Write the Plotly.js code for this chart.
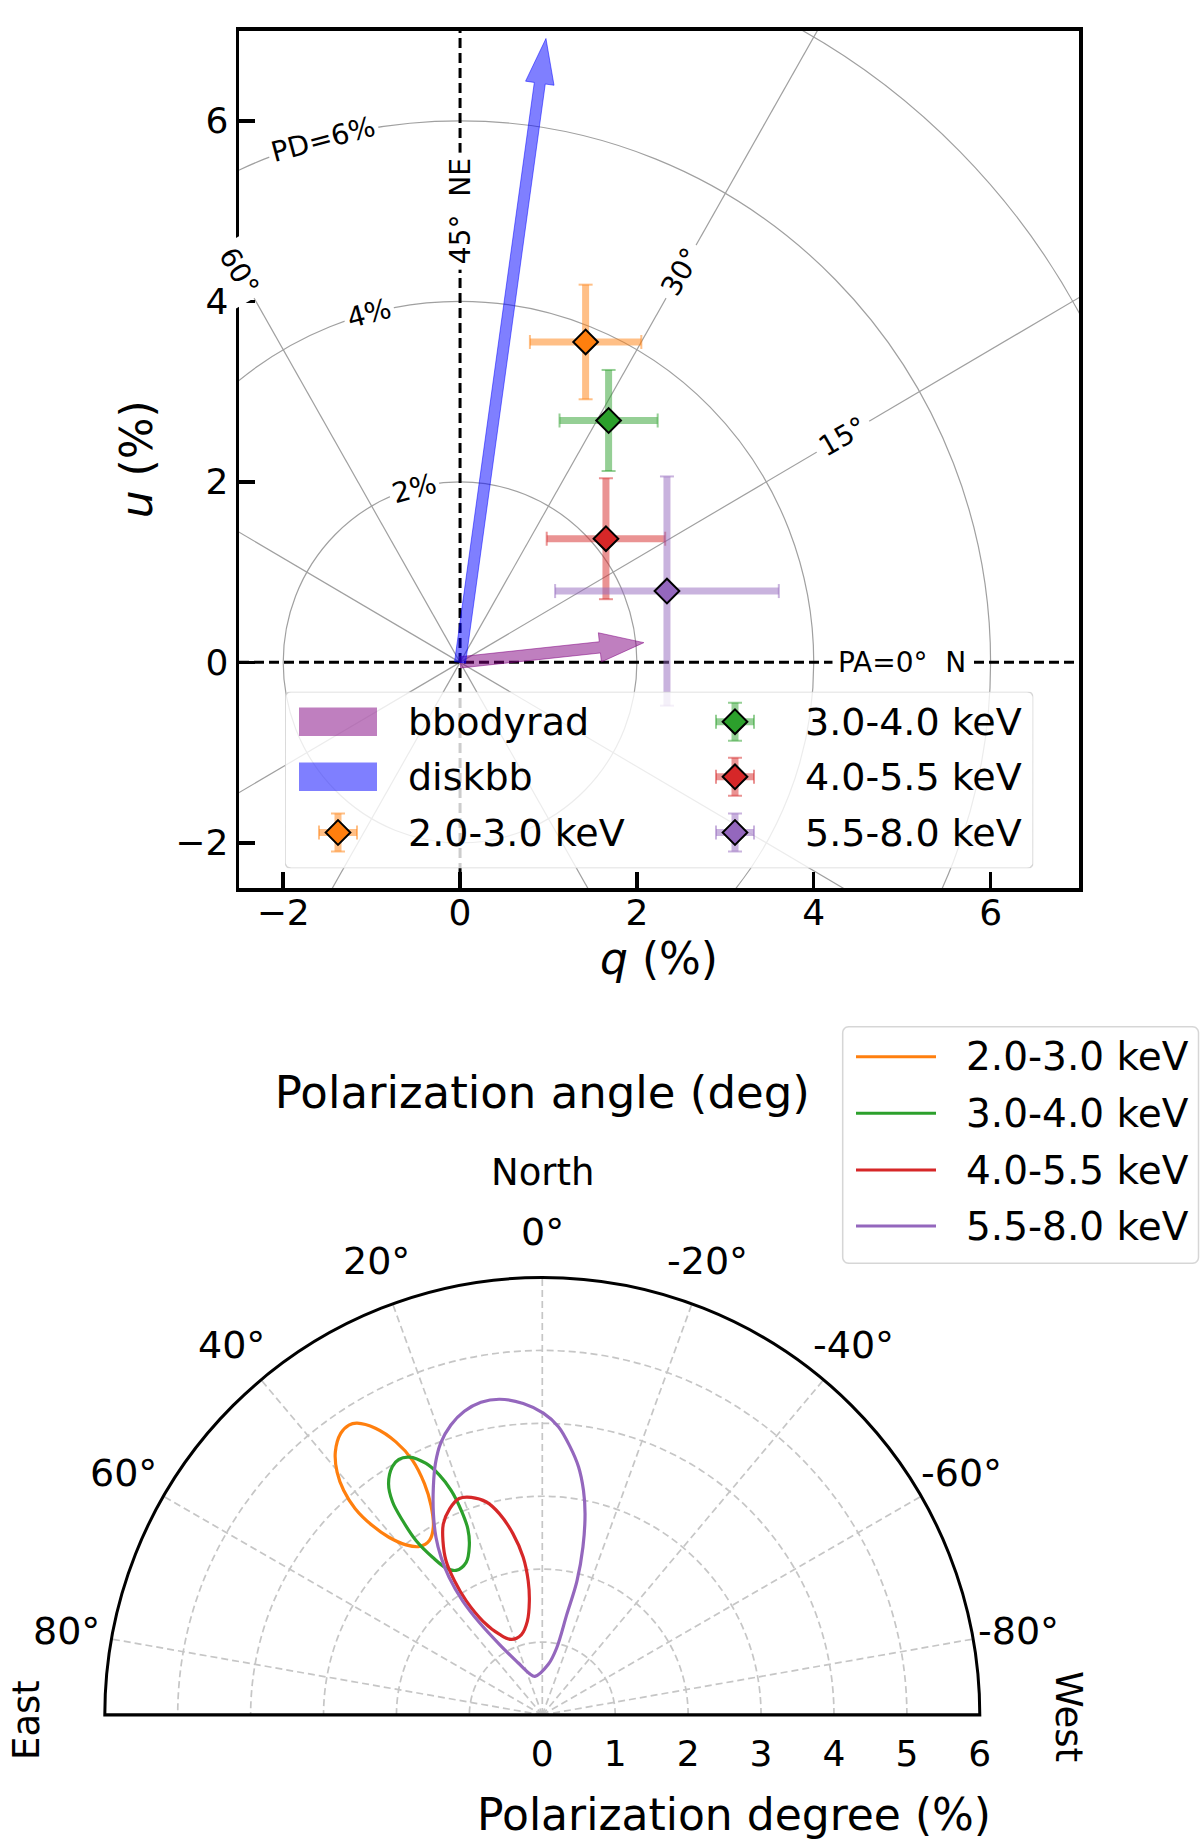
<!DOCTYPE html>
<html><head><meta charset="utf-8">
<script src="https://cdn.plot.ly/plotly-3.0.1.min.js"></script>
<style>html,body{margin:0;padding:0;background:#fff}</style>
</head><body><div id="chart" style="width:1200px;height:1842px"></div>
<script>
// ================= DATA =================
// Energy bands
const bands = ['2.0-3.0 keV', '3.0-4.0 keV', '4.0-5.5 keV', '5.5-8.0 keV'];
const bandColors = ['#ff7f0e', '#2ca02c', '#d62728', '#9467bd'];
const bandErrColors = ['rgba(255,127,14,0.5)', 'rgba(44,160,44,0.5)', 'rgba(214,39,40,0.5)', 'rgba(148,103,189,0.5)'];
// Normalised Stokes parameters (%)
const qVals = [1.42, 1.68, 1.65, 2.34];
const uVals = [3.55, 2.68, 1.37, 0.79];
const qErr  = [0.63, 0.555, 0.67, 1.265];
const uErr  = [0.635, 0.56, 0.67, 1.27];

// Model components (arrows): polarization degree (%) and angle (deg)
const components = ['bbodyrad', 'diskbb'];
const componentPD = [2.09, 6.98];
const componentPA = [3.0, 41.0];
const componentColors = ['rgba(128,0,128,0.5)', 'rgba(0,0,255,0.5)'];

// Confidence contours in the polar plot: PA (deg) and PD (%)
const contourPA_2_3 = [32.4,30.2,28.2,27.0,27.0,28.0,30.1,32.9,36.1,38.7,40.8,41.9,42.2,41.5,40.2,38.2,35.6,33.7,32.4];
const contourPD_2_3 = [4.74,4.55,4.25,3.92,3.56,3.25,2.98,2.85,2.86,2.99,3.22,3.49,3.82,4.11,4.36,4.59,4.75,4.78,4.74];
const contourPA_3_4 = [27.3,24.8,23.2,22.1,21.6,21.8,23.3,26.5,30.8,33.2,34.8,35.9,35.7,35.1,33.6,31.1,29.3,27.3];
const contourPD_3_4 = [3.98,3.80,3.58,3.33,3.02,2.75,2.53,2.34,2.31,2.41,2.63,2.95,3.28,3.57,3.81,3.98,4.02,3.98];
const contourPA_4_55 = [18.1,14.7,12.0,9.2,6.9,6.0,6.5,9.1,14.5,22.3,27.9,32.3,33.7,33.2,32.0,29.7,27.4,24.2,21.0,18.1];
const contourPD_4_55 = [3.14,3.02,2.82,2.52,2.18,1.85,1.57,1.30,1.14,1.12,1.25,1.52,1.88,2.20,2.49,2.75,2.95,3.10,3.18,3.14];
const contourPA_55_8 = [10.8,-6.8,-12.1,-13.7,-14.5,-13.6,-12.0,-10.4,-8.3,-5.9,-3.2,-0.2,3.5,7.7,11.1,14.4,17.5,20.5,23.0,25.5,28.4,30.9,32.7,34.1,34.9,34.2,31.2,24.9,16.9,10.8];
const contourPD_55_8 = [0.54,0.70,0.94,1.42,1.90,2.37,2.82,3.13,3.44,3.70,3.96,4.14,4.28,4.37,4.37,4.30,4.17,3.98,3.75,3.47,3.14,2.84,2.57,2.28,1.91,1.53,1.13,0.79,0.59,0.54];
const contourPA = [contourPA_2_3, contourPA_3_4, contourPA_4_55, contourPA_55_8];
const contourPD = [contourPD_2_3, contourPD_3_4, contourPD_4_55, contourPD_55_8];

// Axis / tick definitions
const qRange = [-2.5, 7];
const uRange = [-2.5, 7];
const qTicks = [-2, 0, 2, 4, 6];
const uTicks = [-2, 0, 2, 4, 6];
const pdCircleRadii = [2, 4, 6, 8];
const pdCircleLabels = ['2%', '4%', 'PD=6%'];
const paSpokes = [15, 30, 60, 75, 105, 120, 150, 165];
const paLabelValues = [0, 15, 30, 45, 60];
const paLabelText = ['PA=0°\u00a0 N', '15°', '30°', '45°\u00a0 NE', '60°'];
const polarPATicks = [80, 60, 40, 20, 0, -20, -40, -60, -80];
const polarPATickText = ['80°', '60°', '40°', '20°', '0°', '-20°', '-40°', '-60°', '-80°'];
const polarPDTicks = [0, 1, 2, 3, 4, 5, 6];
const polarPDMax = 6;

// ================= LAYOUT HELPERS =================
const W = 1200, H = 1842;
const FONT = 'DejaVu Sans';
const PX = v => v / W;
const PY = v => 1 - v / H;
const deg = Math.PI / 180;
// polar subplot geometry (pixels)
const polarCX = 542.3, polarCY = 1715, polarR = 437.5;

function roundRect(x0, y0, x1, y1, r) {
  const xs = [], ys = [];
  const corners = [[x1 - r, y0 + r, -90], [x1 - r, y1 - r, 0], [x0 + r, y1 - r, 90], [x0 + r, y0 + r, 180]];
  corners.forEach(([cx, cy, a0]) => {
    for (let k = 0; k <= 6; k++) {
      const a = (a0 + 15 * k) * deg;
      xs.push(cx + r * Math.cos(a)); ys.push(cy + r * Math.sin(a));
    }
  });
  xs.push(xs[0]); ys.push(ys[0]);
  return {xs, ys};
}

function arrowPolygon(pd, pa, shaftW, headW, headL) {
  const tq = pd * Math.cos(2 * pa * deg), tu = pd * Math.sin(2 * pa * deg);
  const dx = tq / pd, dy = tu / pd, nx = -dy, ny = dx;
  const bq = tq - headL * dx, bu = tu - headL * dy;
  const s = shaftW / 2, h = headW / 2;
  return {
    x: [nx * s, bq + nx * s, bq + nx * h, tq, bq - nx * h, bq - nx * s, -nx * s, nx * s],
    y: [ny * s, bu + ny * s, bu + ny * h, tu, bu - ny * h, bu - ny * s, -ny * s, ny * s]
  };
}

const traces = [];

// ---- arrows ----
components.forEach((name, i) => {
  const p = arrowPolygon(componentPD[i], componentPA[i], 0.125, 0.325, 0.5);
  traces.push({type: 'scatter', x: p.x, y: p.y, mode: 'lines', fill: 'toself',
    fillcolor: componentColors[i], line: {color: componentColors[i], width: 1},
    name: name, showlegend: false, hoverinfo: 'skip', xaxis: 'x', yaxis: 'y'});
});

// ---- data points with error bars ----
bands.forEach((b, i) => {
  traces.push({type: 'scatter', mode: 'markers', xaxis: 'x', yaxis: 'y', showlegend: false, hoverinfo: 'skip',
    x: [qVals[i] - qErr[i], qVals[i] + qErr[i], qVals[i], qVals[i]],
    y: [uVals[i], uVals[i], uVals[i] - uErr[i], uVals[i] + uErr[i]],
    marker: {symbol: ['line-ns', 'line-ns', 'line-ew', 'line-ew'], size: 10,
      color: bandErrColors[i], line: {color: bandErrColors[i], width: 2}}});
  traces.push({type: 'scatter', mode: 'markers', xaxis: 'x', yaxis: 'y', name: b, showlegend: false,
    x: [qVals[i]], y: [uVals[i]],
    error_x: {type: 'data', array: [qErr[i]], color: bandErrColors[i], thickness: 7, width: 0},
    error_y: {type: 'data', array: [uErr[i]], color: bandErrColors[i], thickness: 7, width: 0},
    marker: {symbol: 'diamond', size: 19, color: bandColors[i], line: {color: 'black', width: 2}}});
});

// ---- top legend (drawn on an auxiliary pixel-space axis pair) ----
const legTop = {x0: 285, x1: 1033.3, y0: 691.7, y1: 868.3};
const legTopRows = [721.7, 776.8, 832.5];
const legTopSymX = [338, 735];
const legTopTextX = [406, 803];
const legTopEntries = [
  {kind: 'patch', idx: 0, col: 0, row: 0}, {kind: 'patch', idx: 1, col: 0, row: 1}, {kind: 'point', idx: 0, col: 0, row: 2},
  {kind: 'point', idx: 1, col: 1, row: 0}, {kind: 'point', idx: 2, col: 1, row: 1}, {kind: 'point', idx: 3, col: 1, row: 2}
];
const rr = roundRect(legTop.x0, legTop.y0, legTop.x1, legTop.y1, 6);
traces.push({type: 'scatter', x: rr.xs, y: rr.ys, mode: 'lines', fill: 'toself', fillcolor: 'rgba(255,255,255,0.8)',
  line: {color: 'rgba(204,204,204,0.8)', width: 1.5}, xaxis: 'x2', yaxis: 'y2', showlegend: false, hoverinfo: 'skip'});
const annotations = [];
const shapes = [];
legTopEntries.forEach(e => {
  const cx = legTopSymX[e.col], cy = legTopRows[e.row];
  if (e.kind === 'patch') {
    shapes.push({type: 'rect', xref: 'x2', yref: 'y2', x0: cx - 39, x1: cx + 39, y0: cy - 14.3, y1: cy + 14.3,
      fillcolor: componentColors[e.idx], line: {width: 0}, layer: 'above'});
    annotations.push({xref: 'paper', yref: 'paper', x: PX(legTopTextX[e.col]), y: PY(cy), text: components[e.idx],
      showarrow: false, xanchor: 'left', yanchor: 'middle', font: {size: 38}});
  } else {
    const i = e.idx;
    traces.push({type: 'scatter', mode: 'markers', xaxis: 'x2', yaxis: 'y2', showlegend: false, hoverinfo: 'skip',
      x: [cx - 19, cx + 19, cx, cx], y: [cy, cy, cy - 19, cy + 19],
      marker: {symbol: ['line-ns', 'line-ns', 'line-ew', 'line-ew'], size: 10, color: bandErrColors[i], line: {color: bandErrColors[i], width: 2}}});
    traces.push({type: 'scatter', mode: 'markers', xaxis: 'x2', yaxis: 'y2', showlegend: false, hoverinfo: 'skip',
      x: [cx], y: [cy],
      error_x: {type: 'constant', value: 19, color: bandErrColors[i], thickness: 7, width: 0},
      error_y: {type: 'constant', value: 19, color: bandErrColors[i], thickness: 7, width: 0},
      marker: {symbol: 'diamond', size: 19, color: bandColors[i], line: {color: 'black', width: 2}}});
    annotations.push({xref: 'paper', yref: 'paper', x: PX(legTopTextX[e.col]), y: PY(cy), text: bands[i],
      showarrow: false, xanchor: 'left', yanchor: 'middle', font: {size: 38}});
  }
});

// ---- polar contours ----
bands.forEach((b, i) => {
  traces.push({type: 'scatterpolar', subplot: 'polar', theta: contourPA[i], r: contourPD[i], mode: 'lines',
    line: {color: bandColors[i], width: 3.2, shape: 'spline'}, name: b, showlegend: false, hoverinfo: 'skip'});
});
// polar base line (sector edges)
traces.push({type: 'scatterpolar', subplot: 'polar', theta: [90, 0, -90], r: [polarPDMax, 0, polarPDMax], mode: 'lines',
  line: {color: 'black', width: 3}, cliponaxis: false, showlegend: false, hoverinfo: 'skip'});

// ---- top chart grid shapes ----
pdCircleRadii.forEach(r => {
  shapes.push({type: 'circle', xref: 'x', yref: 'y', x0: -r, x1: r, y0: -r, y1: r,
    line: {color: '#a0a0a0', width: 1.2}, layer: 'below'});
});
paSpokes.forEach(pa => {
  const a = 2 * pa * deg;
  shapes.push({type: 'line', xref: 'x', yref: 'y', x0: 0, y0: 0, x1: 14 * Math.cos(a), y1: 14 * Math.sin(a),
    line: {color: '#a0a0a0', width: 1.2}, layer: 'below'});
});
shapes.push({type: 'line', xref: 'x', yref: 'y', x0: qRange[0], x1: qRange[1], y0: 0, y1: 0,
  line: {color: 'black', width: 3, dash: '10px,5px'}, layer: 'below'});
shapes.push({type: 'line', xref: 'x', yref: 'y', x0: 0, x1: 0, y0: uRange[0], y1: uRange[1],
  line: {color: 'black', width: 3, dash: '10px,5px'}, layer: 'below'});

// grid labels
paLabelValues.forEach((pa, k) => {
  const a = 2 * pa * deg;
  let ta = -2 * pa; if (ta < -90) ta += 180;
  annotations.push({xref: 'x', yref: 'y', x: 5 * Math.cos(a), y: 5 * Math.sin(a), text: paLabelText[k],
    textangle: ta, showarrow: false, xanchor: 'center', yanchor: 'middle', bgcolor: 'white', borderpad: 5,
    font: {size: 28}});
});
pdCircleLabels.forEach((t, k) => {
  const r = pdCircleRadii[k], a = 105 * deg;
  annotations.push({xref: 'x', yref: 'y', x: r * Math.cos(a), y: r * Math.sin(a), text: t,
    textangle: -15, showarrow: false, xanchor: 'center', yanchor: 'middle', bgcolor: 'white', borderpad: 3,
    font: {size: 28}});
});

// ---- polar angular tick labels (centred on a ring outside the arc) ----
polarPATicks.forEach((t, k) => {
  const rl = polarR + 46;
  annotations.push({xref: 'paper', yref: 'paper',
    x: PX(polarCX - rl * Math.sin(t * deg)), y: PY(polarCY - rl * Math.cos(t * deg)),
    text: polarPATickText[k], showarrow: false, xanchor: 'center', yanchor: 'middle', font: {size: 38}});
});

// ---- bottom legend ----
const legBot = {x0: 842.7, x1: 1198.5, y0: 1026.7, y1: 1263.3};
const legBotRows = [1056.7, 1113.3, 1170, 1226];
const rb = roundRect(legBot.x0, legBot.y0, legBot.x1, legBot.y1, 6);
let pathB = 'M' + rb.xs.map((x, k) => PX(x).toFixed(5) + ',' + PY(rb.ys[k]).toFixed(5)).join(' L') + ' Z';
shapes.push({type: 'path', xref: 'paper', yref: 'paper', path: pathB, fillcolor: 'rgba(255,255,255,0.8)',
  line: {color: 'rgba(204,204,204,0.8)', width: 1.5}, layer: 'above'});
bands.forEach((b, i) => {
  shapes.push({type: 'line', xref: 'paper', yref: 'paper', x0: PX(856), x1: PX(936), y0: PY(legBotRows[i]), y1: PY(legBotRows[i]),
    line: {color: bandColors[i], width: 3}, layer: 'above'});
  annotations.push({xref: 'paper', yref: 'paper', x: PX(964), y: PY(legBotRows[i]), text: b,
    showarrow: false, xanchor: 'left', yanchor: 'middle', font: {size: 39}});
});

// ---- bottom texts ----
annotations.push({xref: 'paper', yref: 'paper', x: PX(542.3), y: PY(1172), text: 'North', showarrow: false,
  xanchor: 'center', yanchor: 'middle', font: {size: 37}});
annotations.push({xref: 'paper', yref: 'paper', x: PX(26), y: PY(1720), text: 'East', textangle: -90, showarrow: false,
  xanchor: 'center', yanchor: 'middle', borderpad: 0, font: {size: 37}});
annotations.push({xref: 'paper', yref: 'paper', x: PX(1069), y: PY(1716), text: 'West', textangle: 90, showarrow: false,
  xanchor: 'center', yanchor: 'middle', font: {size: 37}});
annotations.push({xref: 'paper', yref: 'paper', x: PX(733.6), y: PY(1841), text: 'Polarization degree (%)', showarrow: false,
  xanchor: 'center', yanchor: 'bottom', borderpad: 0, font: {size: 44}});

const layout = {
  width: W, height: H, margin: {l: 0, r: 0, t: 0, b: 0},
  paper_bgcolor: 'white', plot_bgcolor: 'rgba(0,0,0,0)',
  font: {family: FONT, color: 'black'},
  showlegend: false,
  title: {text: 'Polarization angle (deg)', font: {size: 45}, x: PX(542.3), xanchor: 'center',
    y: PY(1092), yanchor: 'middle', xref: 'paper', yref: 'container'},
  xaxis: {domain: [PX(239), PX(1079)], range: qRange, tickvals: qTicks, ticks: 'inside', ticklen: 16, tickwidth: 3.5,
    tickcolor: 'black', showline: true, linewidth: 3.5, linecolor: 'black', mirror: true, showgrid: false, zeroline: false,
    tickfont: {size: 36}, ticklabelstandoff: -10,
    title: {text: '<i>q</i> (%)', font: {size: 44}, standoff: 12}, anchor: 'y', fixedrange: true},
  yaxis: {domain: [PY(888), PY(30.6)], range: uRange, tickvals: uTicks, ticks: 'inside', ticklen: 16, tickwidth: 3.5,
    tickcolor: 'black', showline: true, linewidth: 3.5, linecolor: 'black', mirror: true, showgrid: false, zeroline: false,
    tickfont: {size: 36}, title: {text: '<i>u</i> (%)', font: {size: 44}, standoff: 10}, anchor: 'x', fixedrange: true},
  xaxis2: {domain: [PX(legTop.x0), PX(legTop.x1)], range: [legTop.x0, legTop.x1], visible: false, anchor: 'y2', fixedrange: true},
  yaxis2: {domain: [PY(legTop.y1), PY(legTop.y0)], range: [legTop.y1, legTop.y0], visible: false, anchor: 'x2', fixedrange: true},
  polar: {
    domain: {x: [PX(polarCX - polarR), PX(polarCX + polarR)], y: [PY(polarCY), PY(polarCY - polarR)]},
    sector: [0, 180], bgcolor: 'white',
    angularaxis: {rotation: 90, direction: 'counterclockwise', tickmode: 'array', tickvals: polarPATicks, ticktext: polarPATickText,
      showticklabels: false, tickfont: {size: 38}, showline: true, linecolor: 'black', linewidth: 3, showgrid: true, gridcolor: '#c6c6c6',
      gridwidth: 1.7, griddash: '7px,4px', ticks: ''},
    radialaxis: {range: [0, polarPDMax], tickmode: 'array', tickvals: polarPDTicks, showline: false, angle: 0, side: 'clockwise',
      gridcolor: '#c6c6c6', gridwidth: 1.7, griddash: '7px,4px', tickfont: {size: 36}, ticks: 'outside', ticklen: 7,
      tickcolor: 'rgba(0,0,0,0)', tickangle: 0}
  },
  shapes: shapes,
  annotations: annotations
};

Plotly.newPlot('chart', traces, layout, {staticPlot: true, displayModeBar: false});
</script>
</body></html>
